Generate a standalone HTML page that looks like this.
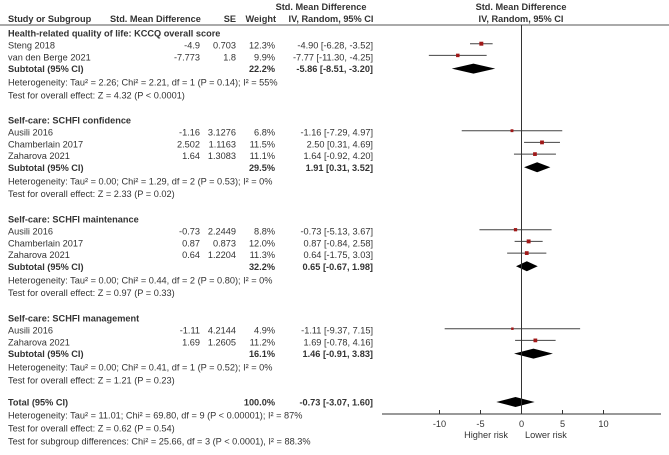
<!DOCTYPE html>
<html><head><meta charset="utf-8"><style>
html,body{margin:0;padding:0;background:#fff}
svg{display:block;font-family:"Liberation Sans",Arial,sans-serif;font-size:9.2px}
text{fill:#333}
.b{font-weight:bold}
</style></head><body>
<svg id="plot" width="669" height="455" viewBox="0 0 669 455">
<g>
<text class="b" x="321" y="10" text-anchor="middle">Std. Mean Difference</text>
<text class="b" x="521" y="10" text-anchor="middle">Std. Mean Difference</text>
<text class="b" x="8" y="22">Study or Subgroup</text>
<text class="b" x="110" y="22">Std. Mean Difference</text>
<text class="b" x="236" y="22" text-anchor="end">SE</text>
<text class="b" x="276" y="22" text-anchor="end">Weight</text>
<text class="b" x="331" y="22" text-anchor="middle">IV, Random, 95% CI</text>
<text class="b" x="521" y="22" text-anchor="middle">IV, Random, 95% CI</text>
<line x1="0" y1="25" x2="669" y2="25" stroke="#555" stroke-width="1"/>
</g>
<g id="rows"></g>
<g id="marks"></g>
<g id="axis"></g>
</svg>
<script>
const groupTitles=["Health-related quality of life: KCCQ overall score","Self-care: SCHFI confidence","Self-care: SCHFI maintenance","Self-care: SCHFI management"];
const studyNames=[["Steng 2018","van den Berge 2021"],["Ausili 2016","Chamberlain 2017","Zaharova 2021"],["Ausili 2016","Chamberlain 2017","Zaharova 2021"],["Ausili 2016","Zaharova 2021"]];
const smdRaw=[["-4.9","-7.773"],["-1.16","2.502","1.64"],["-0.73","0.87","0.64"],["-1.11","1.69"]];
const seRaw=[["0.703","1.8"],["3.1276","1.1163","1.3083"],["2.2449","0.873","1.2204"],["4.2144","1.2605"]];
const weights=[[12.3,9.9],[6.8,11.5,11.1],[8.8,12.0,11.3],[4.9,11.2]];
const est=[[-4.90,-7.77],[-1.16,2.50,1.64],[-0.73,0.87,0.64],[-1.11,1.69]];
const lo=[[-6.28,-11.30],[-7.29,0.31,-0.92],[-5.13,-0.84,-1.75],[-9.37,-0.78]];
const hi=[[-3.52,-4.25],[4.97,4.69,4.20],[3.67,2.58,3.03],[7.15,4.16]];
const subW=[22.2,29.5,32.2,16.1];
const subEst=[-5.86,1.91,0.65,1.46];
const subLo=[-8.51,0.31,-0.67,-0.91];
const subHi=[-3.20,3.52,1.98,3.83];
const hetText=["Heterogeneity: Tau² = 2.26; Chi² = 2.21, df = 1 (P = 0.14); I² = 55%","Heterogeneity: Tau² = 0.00; Chi² = 1.29, df = 2 (P = 0.53); I² = 0%","Heterogeneity: Tau² = 0.00; Chi² = 0.44, df = 2 (P = 0.80); I² = 0%","Heterogeneity: Tau² = 0.00; Chi² = 0.41, df = 1 (P = 0.52); I² = 0%"];
const testText=["Test for overall effect: Z = 4.32 (P < 0.0001)","Test for overall effect: Z = 2.33 (P = 0.02)","Test for overall effect: Z = 0.97 (P = 0.33)","Test for overall effect: Z = 1.21 (P = 0.23)"];
const totalEst=-0.73, totalLo=-3.07, totalHi=1.60;
const xTicks=[-10,-5,0,5,10];

const NS="http://www.w3.org/2000/svg";
const X0=521.5, K=8.2;
function xs(v){return X0+v*K;}
const f2=v=>v.toFixed(2);
function mk(parent,tag,attrs,txt){const e=document.createElementNS(NS,tag);for(const k in attrs)e.setAttribute(k,attrs[k]);if(txt!==undefined)e.textContent=txt;parent.appendChild(e);return e;}
const rows=document.getElementById('rows'), marks=document.getElementById('marks'), axis=document.getElementById('axis');
function txt(x,y,s,anchor,bold){const t=mk(rows,'text',{x:x,y:y+3.5,'text-anchor':anchor||'start'},s);if(bold)t.setAttribute('class','b');


return t;}
function ci(l,e,h){return f2(e)+" ["+f2(l)+", "+f2(h)+"]";}
function diamond(y,l,e,h){const p=mk(marks,'polygon',{points:`${xs(l)},${y} ${xs(e)},${y-5} ${xs(h)},${y} ${xs(e)},${y+5}`,fill:'#000'});

}
const starts=[33,120,219,318];
for(let g=0;g<4;g++){
  let y=starts[g];
  txt(8,y,groupTitles[g],'start',true);
  y+=12.2;
  for(let i=0;i<studyNames[g].length;i++){
    txt(8,y,studyNames[g][i]);txt(200,y,smdRaw[g][i],'end');txt(236,y,seRaw[g][i],'end');
    txt(275,y,weights[g][i].toFixed(1)+"%",'end');txt(373,y,ci(lo[g][i],est[g][i],hi[g][i]),'end');
    const my=y-1.5;
    const l=mk(marks,'line',{x1:xs(lo[g][i]),x2:xs(hi[g][i]),y1:my,y2:my,stroke:'#444','stroke-width':1});
    
    
    const s=1.5+weights[g][i]*0.2;
    const r=mk(marks,'rect',{x:xs(est[g][i])-s/2,y:my-s/2,width:s,height:s,fill:'#a01818'});
    
    
    y+=11.7;
  }
  txt(8,y,"Subtotal (95% CI)",'start',true);txt(275,y,subW[g].toFixed(1)+"%",'end',true);txt(373,y,ci(subLo[g],subEst[g],subHi[g]),'end',true);
  diamond(y,subLo[g],subEst[g],subHi[g]);
  y+=13.5;txt(8,y,hetText[g]);y+=12.8;txt(8,y,testText[g]);
}
txt(8,402,"Total (95% CI)",'start',true);txt(275,402,"100.0%",'end',true);txt(373,402,ci(totalLo,totalEst,totalHi),'end',true);
diamond(402,totalLo,totalEst,totalHi);
txt(8,415,"Heterogeneity: Tau² = 11.01; Chi² = 69.80, df = 9 (P < 0.00001); I² = 87%");
txt(8,428,"Test for overall effect: Z = 0.62 (P = 0.54)");
txt(8,441,"Test for subgroup differences: Chi² = 25.66, df = 3 (P < 0.0001), I² = 88.3%");
const zl=mk(axis,'line',{x1:xs(0),x2:xs(0),y1:25,y2:414,stroke:'#333','stroke-width':1});


mk(axis,'line',{x1:382,x2:661,y1:414,y2:414,stroke:'#333','stroke-width':1});
xTicks.forEach(v=>{
  const tk=mk(axis,'line',{x1:xs(v),x2:xs(v),y1:410,y2:414,stroke:'#333'});
  
  
  const t=mk(axis,'text',{x:xs(v),y:427,'text-anchor':'middle'},String(v));
  
  
});
const h=mk(axis,'text',{x:508,y:438,'text-anchor':'end'},"Higher risk");


const lr=mk(axis,'text',{x:525,y:438},"Lower risk");


</script>
</body></html>
